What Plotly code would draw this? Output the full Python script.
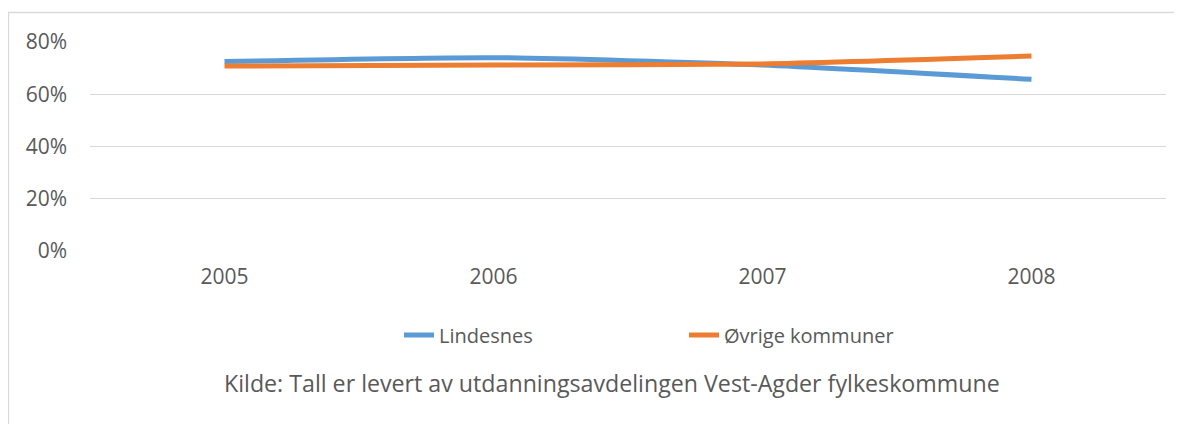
import plotly.graph_objects as go

years = ["2005", "2006", "2007", "2008"]
lindesnes = [0.725, 0.740, 0.712, 0.657]
ovrige = [0.708, 0.712, 0.716, 0.746]
y_ticks = [0, 0.2, 0.4, 0.6, 0.8]
y_tick_labels = ["0%", "20%", "40%", "60%", "80%"]
caption = "Kilde: Tall er levert av utdanningsavdelingen Vest-Agder fylkeskommune"

W, H = 1182, 424
OFF = 8  # page body margin offset (screen = figure + OFF)
# target plot area in screen pixels
SX0, SX1, SY0, SY1 = 90, 1166, 42, 251
L, T = SX0 - OFF, SY0 - OFF
R, B = W - (SX1 - OFF), H - (SY1 - OFF)
pw, ph = W - L - R, H - T - B

def px_x(sx):
    return (sx - SX0) / pw

def px_y(sy):
    return (SY1 - sy) / ph

font = "Open Sans"
txt = "#595959"

fig = go.Figure()
fig.add_trace(go.Scatter(x=years, y=lindesnes, name="Lindesnes", mode="lines",
                         line=dict(color="#5B9BD5", width=5, shape="spline", smoothing=0.6)))
fig.add_trace(go.Scatter(x=years, y=ovrige, name="Øvrige kommuner", mode="lines",
                         line=dict(color="#ED7D31", width=5, shape="spline", smoothing=0.6)))

fig.update_layout(
    width=W, height=H,
    margin=dict(l=L, r=R, t=T, b=B),
    paper_bgcolor="white", plot_bgcolor="white",
    font=dict(family=font, size=20, color=txt),
    showlegend=True,
    legend=dict(orientation="h", x=px_x(399), y=px_y(335), xanchor="left", yanchor="middle",
                entrywidth=240, entrywidthmode="pixels", font=dict(size=20, color=txt),
                bgcolor="rgba(0,0,0,0)"),
    xaxis=dict(type="category", range=[-0.5, 3.5], showgrid=False, zeroline=False,
               showline=False, ticks="", tickfont=dict(size=21, color=txt), ticklabelstandoff=11),
    yaxis=dict(range=[0, 0.8], tickvals=y_ticks, ticktext=y_tick_labels,
               showgrid=True, gridcolor="#D9D9D9", gridwidth=1.3, zeroline=False,
               showline=False, ticks="", tickfont=dict(size=21, color=txt), ticklabelstandoff=22),
    shapes=[dict(type="rect", xref="paper", yref="paper",
                 x0=px_x(8.5), x1=px_x(W + 30), y0=px_y(H + 30), y1=px_y(12.5),
                 line=dict(color="#D9D9D9", width=1.3), fillcolor="rgba(0,0,0,0)", layer="below")],
    annotations=[dict(text=caption, xref="paper", yref="paper", x=px_x(612), y=px_y(383),
                      xanchor="center", yanchor="middle", showarrow=False,
                      font=dict(size=23.2, color=txt))],
)

fig.write_html("out.html")
